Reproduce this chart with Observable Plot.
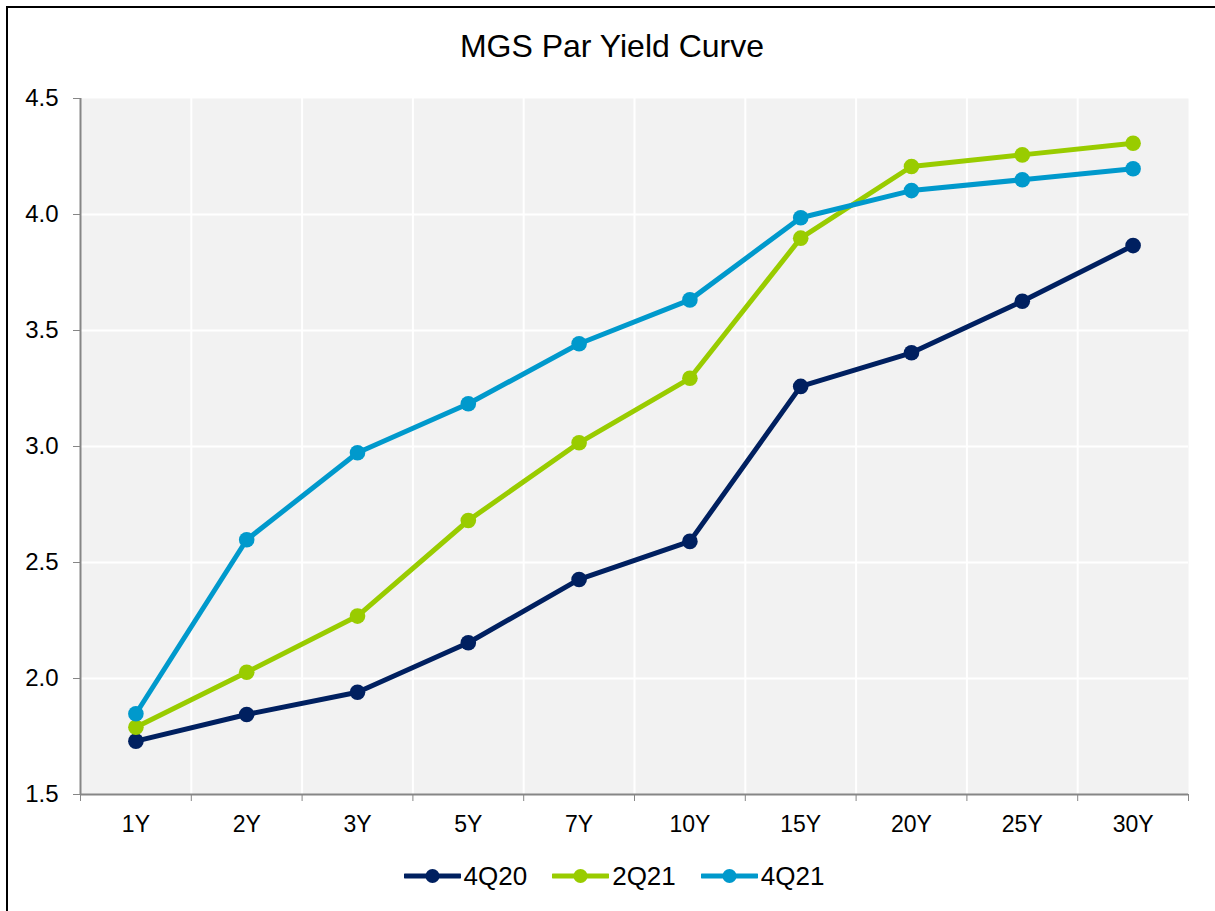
<!DOCTYPE html>
<html>
<head>
<meta charset="utf-8">
<script src="https://cdn.jsdelivr.net/npm/d3@7"></script>
<script src="https://cdn.jsdelivr.net/npm/@observablehq/plot@0.6"></script>
<style>
  html, body { margin: 0; padding: 0; background: #fff; }
  body { font-family: "Liberation Sans", Arial, sans-serif; width: 1215px; height: 911px; position: relative; overflow: hidden; }
  #border { position: absolute; left: 6px; top: 6px; width: 1300px; height: 1000px; border-left: 2px solid #000; border-top: 2px solid #000; }
  #title { position: absolute; left: 0; top: 30px; width: 1224px; text-align: center; font-size: 32px; line-height: 32px; color: #000; }
  #chart { position: absolute; left: 0; top: 80px; }
  #legend { position: absolute; left: 0; top: 864px; width: 1228px; display: flex; justify-content: center; align-items: center; gap: 25px; font-size: 26px; line-height: 24px; color: #000; }
  .item { display: flex; align-items: center; }
  .item svg { margin-right: 3px; }
</style>
</head>
<body>
<div id="border"></div>
<div id="title">MGS Par Yield Curve</div>
<div id="chart"></div>
<div id="legend"></div>
<script>
const tenors = ["1Y", "2Y", "3Y", "5Y", "7Y", "10Y", "15Y", "20Y", "25Y", "30Y"];
const seriesNames = ["4Q20", "2Q21", "4Q21"];
const seriesColors = ["#002060", "#99CC00", "#0099CC"];
const y4Q20 = [1.73, 1.845, 1.941, 2.154, 2.427, 2.591, 3.259, 3.404, 3.626, 3.866];
const y2Q21 = [1.79, 2.027, 2.269, 2.681, 3.016, 3.294, 3.898, 4.207, 4.257, 4.307];
const y4Q21 = [1.848, 2.598, 2.973, 3.184, 3.443, 3.632, 3.986, 4.103, 4.150, 4.197];
const yTicks = [1.5, 2.0, 2.5, 3.0, 3.5, 4.0, 4.5];

const seriesValues = [y4Q20, y2Q21, y4Q21];
const data = seriesNames.flatMap((s, k) => tenors.map((t, i) => ({series: s, tenor: t, value: seriesValues[k][i]})));

const width = 1215, height = 770;
const marginLeft = 80, marginRight = 27, marginTop = 18, marginBottom = 56;
const step = (width - marginLeft - marginRight) / tenors.length;
const axisGray = "#868686";

const seriesMarks = seriesNames.flatMap((s) => {
  const d = data.filter(r => r.series === s);
  return [
    Plot.line(d, {x: "tenor", y: "value", stroke: "series", strokeWidth: 5, strokeLinejoin: "round"}),
    Plot.dot(d, {x: "tenor", y: "value", fill: "series", r: 7.8, stroke: "none"})
  ];
});

const chart = Plot.plot({
  width, height, marginLeft, marginRight, marginTop, marginBottom,
  style: {fontFamily: "'Liberation Sans', Arial, sans-serif", fontSize: "23px", color: "#000", background: "transparent", overflow: "visible"},
  x: {type: "point", domain: tenors, padding: 0.5, round: false, label: null},
  y: {domain: [1.5, 4.5], label: null},
  color: {domain: seriesNames, range: seriesColors},
  marks: [
    Plot.frame({fill: "#f2f2f2", stroke: "none"}),
    Plot.ruleY([2.0, 2.5, 3.0, 3.5, 4.0], {stroke: "#fff", strokeWidth: 2}),
    Plot.ruleX(tenors.slice(1), {x: d => d, dx: -step / 2, stroke: "#fff", strokeWidth: 2}),
    Plot.ruleY([1.5], {stroke: axisGray, strokeWidth: 2}),
    Plot.ruleX([tenors[0]], {x: d => d, dx: -step / 2, stroke: axisGray, strokeWidth: 2}),
    Plot.axisY({ticks: yTicks, tickFormat: d3.format(".1f"), tickSize: 7, tickPadding: 15, stroke: axisGray, fontSize: 24, label: null}),
    Plot.axisX({ticks: tenors, tickSize: 7, tickFormat: () => "", dx: -step / 2, stroke: axisGray, label: null}),
    Plot.axisX({ticks: [tenors[tenors.length - 1]], tickSize: 7, tickFormat: () => "", dx: step / 2, stroke: axisGray, label: null}),
    Plot.axisX({ticks: tenors, tickSize: 0, tickPadding: 21, fontSize: 23, label: null}),
    ...seriesMarks
  ]
});
document.getElementById("chart").appendChild(chart);

const legend = document.getElementById("legend");
seriesNames.forEach((s, i) => {
  const item = document.createElement("div");
  item.className = "item";
  item.innerHTML = `<svg width="57" height="16"><line x1="1" y1="8" x2="56" y2="8" stroke="${seriesColors[i]}" stroke-width="5" stroke-linecap="round"/><circle cx="28.5" cy="8" r="7" fill="${seriesColors[i]}"/></svg><span>${s}</span>`;
  legend.appendChild(item);
});
</script>
</body>
</html>
